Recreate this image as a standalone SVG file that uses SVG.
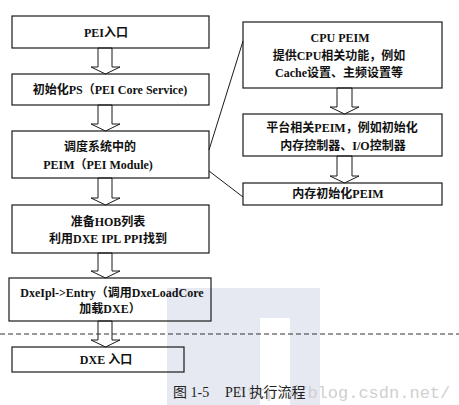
<svg xmlns="http://www.w3.org/2000/svg" width="459" height="405" viewBox="0 0 459 405">
<style>
.box{fill:none;stroke:#1a1a1a;stroke-width:1.2}
.arr{fill:#fff;stroke:#1a1a1a;stroke-width:1}
.t{font-family:"Liberation Serif","Noto Sans CJK SC",serif;font-size:12px;font-weight:bold;fill:#111;text-anchor:middle;dominant-baseline:central}
.conn{stroke:#1a1a1a;stroke-width:1;fill:none}
.cap{font-family:"Liberation Serif","Noto Sans CJK SC",serif;font-size:14px;fill:#222}
</style>
<rect width="459" height="405" fill="#fff"/>
<g id="watermark">
<path d="M167,288 H320 V405 H290 V318 H260 V405 H167 Z" fill="#e6e8f2"/>
<text x="236" y="398" font-family="Liberation Mono, monospace" font-size="17" fill="#d0d0d0">http://blog.csdn.net/</text>
</g>
<g id="connectors">
<polygon class="arr" points="98,48 112,48 112,67 120,67 105.5,74 91,67 98,67"/>
<polygon class="arr" points="98,105 112,105 112,124 120,124 105.5,131 91,124 98,124"/>
<polygon class="arr" points="98,178 112,178 112,198 120,198 105.5,205 91,198 98,198"/>
<polygon class="arr" points="98,253 112,253 112,271 120,271 105.5,278 91,271 98,271"/>
<polygon class="arr" points="98,321 112,321 112,340 120,340 105.5,347 91,340 98,340"/>
<polygon class="arr" points="337,88 352,88 352,107 359,107 344.5,114 330,107 337,107"/>
<polygon class="arr" points="337,156 352,156 352,176 359,176 344.5,183 330,176 337,176"/>
<line class="conn" x1="209" y1="150" x2="243" y2="41"/>
<line class="conn" x1="209" y1="171" x2="243" y2="197"/>
<line x1="0" y1="334" x2="459" y2="334" stroke="#333" stroke-width="1" stroke-dasharray="5,3"/>
</g>
<g id="n1"><rect class="box" x="12" y="16" width="197" height="32"/><text class="t" x="106" y="33">PEI入口</text></g>
<g id="n2"><rect class="box" x="12" y="74" width="197" height="31"/><text class="t" x="110" y="90">初始化PS（PEI Core Service)</text></g>
<g id="n3"><rect class="box" x="12" y="131" width="197" height="47"/><text class="t" x="100" y="147">调度系统中的</text><text class="t" x="98" y="165">PEIM（PEI Module)</text></g>
<g id="n4"><rect class="box" x="12" y="205" width="197" height="48"/><text class="t" x="108" y="222">准备HOB列表</text><text class="t" x="108" y="239">利用DXE IPL PPI找到</text></g>
<g id="n5"><rect class="box" x="9" y="278" width="202" height="43"/><text class="t" x="112" y="293">DxeIpl-&gt;Entry（调用DxeLoadCore</text><text class="t" x="110" y="309">加载DXE）</text></g>
<g id="n6"><rect class="box" x="12" y="347" width="172" height="25"/><text class="t" x="106" y="360">DXE 入口</text></g>
<g id="nA"><rect class="box" x="243" y="22" width="199" height="66"/><text class="t" x="340" y="38">CPU PEIM</text><text class="t" x="339" y="56">提供CPU相关功能，例如</text><text class="t" x="339" y="73">Cache设置、主频设置等</text></g>
<g id="nB"><rect class="box" x="243" y="114" width="199" height="42"/><text class="t" x="342" y="128">平台相关PEIM，例如初始化</text><text class="t" x="343" y="146">内存控制器、I/O控制器</text></g>
<g id="nC"><rect class="box" x="243" y="183" width="199" height="22"/><text class="t" x="338" y="194">内存初始化PEIM</text></g>
<g id="caption"><text class="cap" x="173" y="397">图 1-5</text><text class="cap" x="225" y="397">PEI 执行流程</text></g>
</svg>
